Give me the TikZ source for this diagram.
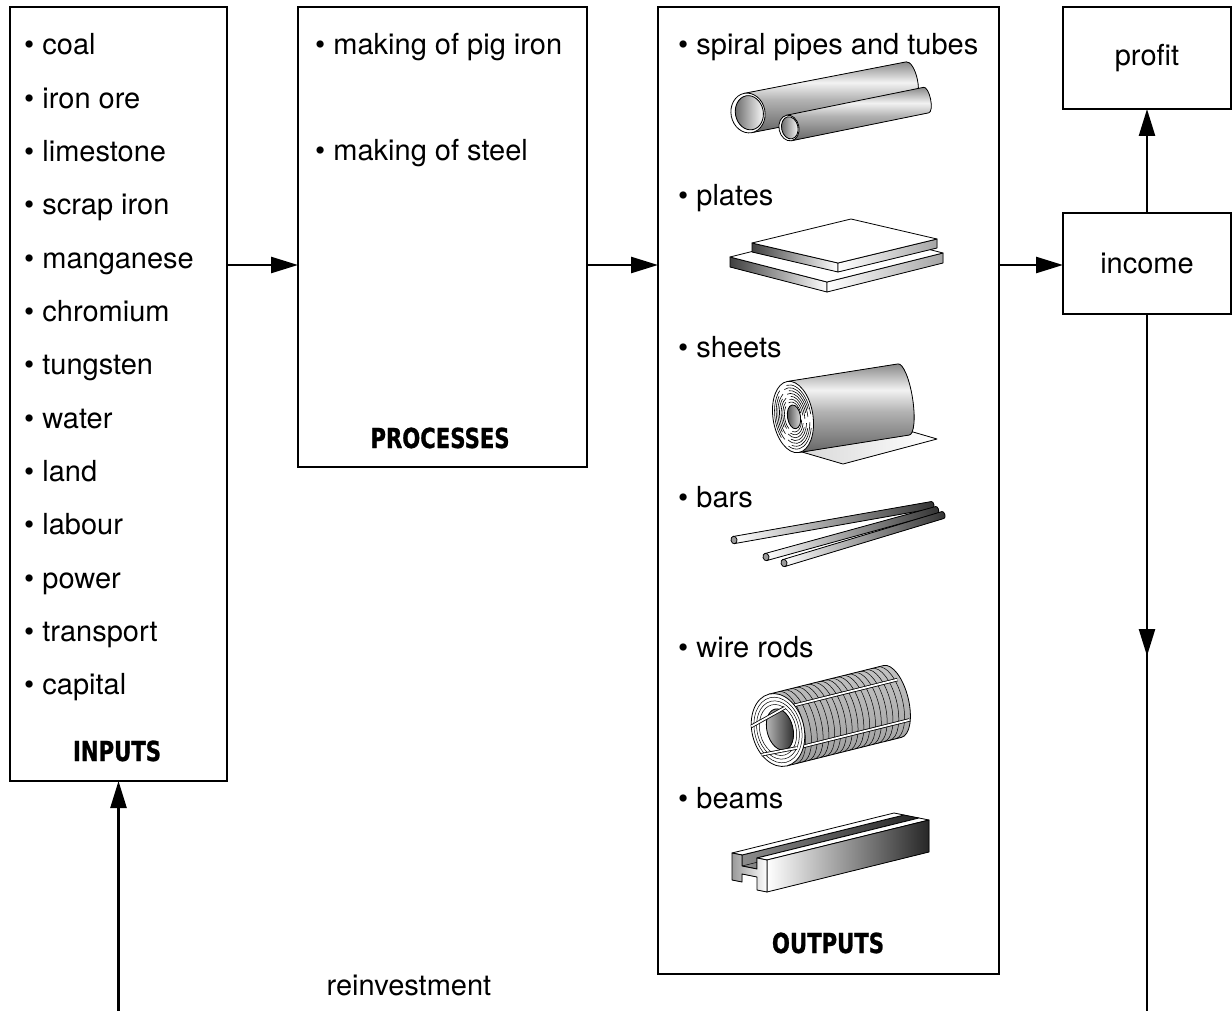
\documentclass[tikz,border=0pt]{standalone}
\usepackage{fontspec}
\setmainfont{TeX Gyre Heros}
\newfontfamily\heavyfont[FakeStretch=0.77,BoldFeatures={FakeBold=1}]{DejaVu Sans}
\usetikzlibrary{arrows.meta}
\pgfdeclareverticalshading{metalv}{100bp}{color(0bp)=(black!80); color(25bp)=(black!60); color(48bp)=(black!30); color(60bp)=(black!5); color(76bp)=(black!50); color(100bp)=(black!78)}

\newcommand{\drawpipe}[6]{%
 \begin{scope}[shift={(#1,#2)},rotate=#3]
  \fill[shading=metalv] (0,-#5) -- (#4,-#5) arc[start angle=-90,end angle=90,x radius=0.45*#6,y radius=#5] -- (0,#5) -- cycle;
  \draw[ol] (0,-#5) -- (#4,-#5) arc[start angle=-90,end angle=90,x radius=0.45*#6,y radius=#5] -- (0,#5);
  \filldraw[ol,fill=white] (0,0) ellipse[x radius=#6,y radius=#5];
  \filldraw[ol,left color=black!60,right color=white] (0.08*#6,0) ellipse[x radius=0.82*#6,y radius=0.86*#5];
 \end{scope}}

\newcommand{\drawbar}[4]{%
 \begin{scope}[shift={(#1,#2)},rotate=#3]
  \filldraw[ol,left color=white,right color=black!80] (0,-3.6) -- (#4,-3.6) arc[start angle=-90,end angle=90,x radius=2,y radius=3.6] -- (0,3.6) -- cycle;
  \filldraw[ol,fill=black!40] (0,0) ellipse[x radius=3,y radius=3.8];
 \end{scope}}

\begin{document}
\begin{tikzpicture}[x=1pt,y=-1pt,
 box/.style={draw, line width=2.6pt, inner sep=0pt, outer sep=0pt, anchor=north west},
 conn/.style={line width=2.5pt},
 arr/.style={conn,-{Triangle[length=27pt,width=16pt]}},
 item/.style={anchor=base west, inner sep=0pt, font=\fontsize{29}{35}\selectfont},
 head/.style={anchor=base, inner sep=0pt, font={\heavyfont\bfseries\fontsize{27.5}{33}\selectfont}},
 ol/.style={line width=0.8pt, line join=round, draw=black}]

\useasboundingbox (0,0) rectangle (1232,1011);
\fill[white] (0,0) rectangle (1232,1011);

% boxes
\node[box, minimum width=217pt, minimum height=774pt] (inputs) at (10,7) {};
\node[box, minimum width=289pt, minimum height=460pt] (processes) at (298,7) {};
\node[box, minimum width=341pt, minimum height=967pt] (outputs) at (658,7) {};
\node[box, minimum width=168pt, minimum height=102pt, font=\fontsize{29}{35}\selectfont] (profit) at (1063,7) {profit};
\node[box, minimum width=168pt, minimum height=101pt, font=\fontsize{29}{35}\selectfont] (income) at (1063,213) {income};

% connectors
\coordinate (ay) at (0,265);
\draw[arr] (inputs.east |- ay) -- (processes.west |- ay);
\draw[arr] (processes.east |- ay) -- (outputs.west |- ay);
\draw[arr] (outputs.east |- ay) -- (income.west |- ay);
\draw[arr] (income.north) -- (profit.south);
\coordinate (rmid) at (1147,656);
\coordinate (rbot) at (1147,1011);
\coordinate (lbot) at (118.5,1011);
\draw[conn] (income.south) -- (rbot);
\draw[arr] (income.south) -- (rmid);
\draw[arr] (lbot) -- (inputs.south);
\node[anchor=base, inner sep=0pt, font=\fontsize{29}{35}\selectfont] (reinv) at (409,995) {reinvestment};

% inputs list
\foreach \t [count=\i] in {coal,iron ore,limestone,scrap iron,manganese,chromium,tungsten,water,land,labour,power,transport,capital}
  \node[item] (in\i) at (24,{55+53.33*(\i-1)}) {\textbullet\ \t};
\node[head] (hin) at (117,761) {INPUTS};

% processes
\node[item] (p1) at (315,55) {\textbullet\ making of pig iron};
\node[item] (p2) at (315,161) {\textbullet\ making of steel};
\node[head] (hpr) at (440,448) {PROCESSES};

% outputs
\node[item] (o1) at (678,55) {\textbullet\ spiral pipes and tubes};
\node[item] (o2) at (678,206) {\textbullet\ plates};
\node[item] (o3) at (678,357) {\textbullet\ sheets};
\node[item] (o4) at (678,507) {\textbullet\ bars};
\node[item] (o5) at (678,657) {\textbullet\ wire rods};
\node[item] (o6) at (678,808) {\textbullet\ beams};
\node[head] (hout) at (828,953) {OUTPUTS};

% --- pipes
\drawpipe{748}{113}{11}{165}{20}{17}
\drawpipe{789}{128}{11.5}{140}{13}{10}

% --- plates
\filldraw[ol,left color=black!75,right color=white] (730,257) -- (827,282) -- (827,292) -- (730,267) -- cycle;
\filldraw[ol,left color=white,right color=black!35] (827,282) -- (943,253) -- (943,263) -- (827,292) -- cycle;
\filldraw[ol,fill=white] (730,257) -- (827,282) -- (943,253) -- (846,228) -- cycle;
\filldraw[ol,left color=black!75,right color=white] (752,243) -- (838,263) -- (838,272) -- (752,252) -- cycle;
\filldraw[ol,left color=white,right color=black!35] (838,263) -- (937,239) -- (937,248) -- (838,272) -- cycle;
\filldraw[ol,fill=white] (752,243) -- (838,263) -- (937,239) -- (851,219) -- cycle;

% --- sheets roll
\filldraw[ol,left color=black!15,right color=white] (802,452) -- (843,464) -- (937,439) -- (913,432) -- cycle;
\begin{scope}[shift={(793,417)},rotate=9]
  \fill[shading=metalv] (0,-36) -- (112,-36) arc[start angle=-90,end angle=90,x radius=9,y radius=36] -- (0,36) -- cycle;
  \draw[ol] (0,-36) -- (112,-36) arc[start angle=-90,end angle=90,x radius=9,y radius=36] -- (0,36);
  \filldraw[ol,fill=white] (0,0) ellipse[x radius=20,y radius=36];
  \foreach \f/\o in {0.42/0,0.5/10,0.58/20,0.66/5,0.74/15,0.82/0,0.9/10}{
    \foreach \a in {15,135,255}
      \draw[line width=0.6pt] ({20*\f*cos(\a+\o)},{36*\f*sin(\a+\o)}) arc[start angle=\a+\o, end angle=\a+\o+95, x radius=20*\f, y radius=36*\f];
  }
  \filldraw[ol,left color=black!70,right color=black!10] (1,0) ellipse[x radius=6.5,y radius=12];
\end{scope}

% --- bars
\drawbar{734}{540}{10}{201}
\drawbar{766}{557}{15.4}{177}
\drawbar{784}{563}{16.8}{166}

% --- wire rod coil
\begin{scope}[shift={(778,730)},rotate=14]
  \fill[white] (0,-37) -- (118,-37) arc[start angle=-90,end angle=90,x radius=16,y radius=37] -- (0,37) -- cycle;
  \fill[top color=white,bottom color=black!45,opacity=0.35] (0,-37) -- (118,-37) arc[start angle=-90,end angle=90,x radius=16,y radius=37] -- (0,37) -- cycle;
  \foreach \u in {10,16,...,116}
    \draw[line width=0.5pt] (\u,-37) arc[start angle=-90,end angle=90,x radius=16,y radius=37];
  \draw[ol] (0,-37) -- (118,-37) arc[start angle=-90,end angle=90,x radius=16,y radius=37] -- (0,37);
  \draw[line width=3.4pt] (10,-20) -- (128,-20);
  \draw[line width=1.8pt,white] (10,-20) -- (128,-20);
  \draw[line width=3.4pt] (12,22) -- (130,22);
  \draw[line width=1.8pt,white] (12,22) -- (130,22);
  \filldraw[ol,fill=white] (0,0) ellipse[x radius=26,y radius=37];
  \foreach \k in {0.9,0.8,0.7}
    \draw[line width=0.5pt] (0,0) ellipse[x radius=26*\k,y radius=37*\k];
  \filldraw[ol,left color=black!25,right color=black!85] (2,0) ellipse[x radius=13,y radius=21];
  \draw[line width=3.4pt] (-25,-10) -- (12,-20);
  \draw[line width=1.8pt,white] (-25,-10) -- (12,-20);
  \draw[line width=3.4pt] (-22,20) -- (14,22);
  \draw[line width=1.8pt,white] (-22,20) -- (14,22);
\end{scope}

% --- beam
\filldraw[ol,left color=black!45,right color=black!85] (742,855) -- (904,815) -- (919,818) -- (757,858) -- (757,869) -- (742,866) -- cycle;
\draw[line width=0.5pt] (742,866) -- (904,826);
\filldraw[ol,fill=white] (732,853) -- (894,813) -- (904,815) -- (742,855) -- cycle;
\filldraw[ol,fill=white] (757,858) -- (919,818) -- (929,820) -- (767,860) -- cycle;
\filldraw[ol,left color=white,right color=black!85] (767,860) -- (929,820) -- (929,852) -- (767,892) -- cycle;
\filldraw[ol,left color=black!40,right color=white] (732,853) -- (742,855) -- (742,866) -- (757,869) -- (757,858) -- (767,860) -- (767,892) -- (757,890) -- (757,877) -- (742,874) -- (742,882) -- (732,880) -- cycle;

\end{tikzpicture}
\end{document}
